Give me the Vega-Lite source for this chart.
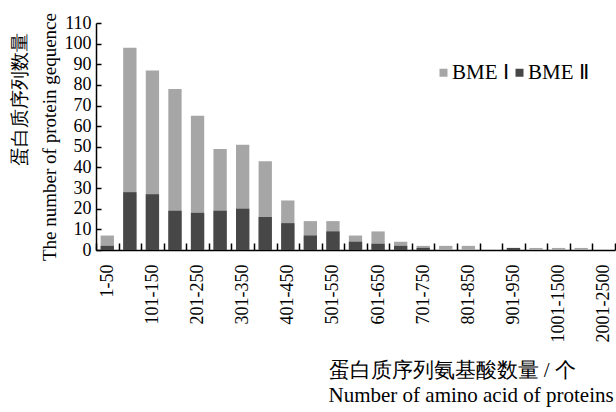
{
  "$schema": "https://vega.github.io/schema/vega-lite/v6.json",
  "width": 519,
  "height": 227,
  "autosize": "none",
  "padding": {"left": 96, "top": 23, "right": 1, "bottom": 162},
  "background": "white",
  "config": {
    "view": {"stroke": null},
    "font": "Liberation Serif",
    "axis": {
      "domainColor": "black",
      "domainWidth": 1.5,
      "tickColor": "black",
      "tickWidth": 1.5,
      "grid": false
    }
  },
  "data": {
    "values": [
      {"range": "1-50", "series": "BME Ⅰ", "count": 7},
      {"range": "51-100", "series": "BME Ⅰ", "count": 98},
      {"range": "101-150", "series": "BME Ⅰ", "count": 87},
      {"range": "151-200", "series": "BME Ⅰ", "count": 78},
      {"range": "201-250", "series": "BME Ⅰ", "count": 65},
      {"range": "251-300", "series": "BME Ⅰ", "count": 49},
      {"range": "301-350", "series": "BME Ⅰ", "count": 51},
      {"range": "351-400", "series": "BME Ⅰ", "count": 43},
      {"range": "401-450", "series": "BME Ⅰ", "count": 24},
      {"range": "451-500", "series": "BME Ⅰ", "count": 14},
      {"range": "501-550", "series": "BME Ⅰ", "count": 14},
      {"range": "551-600", "series": "BME Ⅰ", "count": 7},
      {"range": "601-650", "series": "BME Ⅰ", "count": 9},
      {"range": "651-700", "series": "BME Ⅰ", "count": 4},
      {"range": "701-750", "series": "BME Ⅰ", "count": 2},
      {"range": "751-800", "series": "BME Ⅰ", "count": 2},
      {"range": "801-850", "series": "BME Ⅰ", "count": 2},
      {"range": "851-900", "series": "BME Ⅰ", "count": 0},
      {"range": "901-950", "series": "BME Ⅰ", "count": 1},
      {"range": "951-1000", "series": "BME Ⅰ", "count": 1},
      {"range": "1001-1500", "series": "BME Ⅰ", "count": 1},
      {"range": "1501-2000", "series": "BME Ⅰ", "count": 1},
      {"range": "2001-2500", "series": "BME Ⅰ", "count": 0},
      {"range": "1-50", "series": "BME Ⅱ", "count": 2},
      {"range": "51-100", "series": "BME Ⅱ", "count": 28},
      {"range": "101-150", "series": "BME Ⅱ", "count": 27},
      {"range": "151-200", "series": "BME Ⅱ", "count": 19},
      {"range": "201-250", "series": "BME Ⅱ", "count": 18},
      {"range": "251-300", "series": "BME Ⅱ", "count": 19},
      {"range": "301-350", "series": "BME Ⅱ", "count": 20},
      {"range": "351-400", "series": "BME Ⅱ", "count": 16},
      {"range": "401-450", "series": "BME Ⅱ", "count": 13},
      {"range": "451-500", "series": "BME Ⅱ", "count": 7},
      {"range": "501-550", "series": "BME Ⅱ", "count": 9},
      {"range": "551-600", "series": "BME Ⅱ", "count": 4},
      {"range": "601-650", "series": "BME Ⅱ", "count": 3},
      {"range": "651-700", "series": "BME Ⅱ", "count": 2},
      {"range": "701-750", "series": "BME Ⅱ", "count": 1},
      {"range": "751-800", "series": "BME Ⅱ", "count": 0},
      {"range": "801-850", "series": "BME Ⅱ", "count": 0},
      {"range": "851-900", "series": "BME Ⅱ", "count": 0},
      {"range": "901-950", "series": "BME Ⅱ", "count": 1},
      {"range": "951-1000", "series": "BME Ⅱ", "count": 0},
      {"range": "1001-1500", "series": "BME Ⅱ", "count": 0},
      {"range": "1501-2000", "series": "BME Ⅱ", "count": 0},
      {"range": "2001-2500", "series": "BME Ⅱ", "count": 0}
    ]
  },
  "mark": {"type": "bar", "width": {"band": 0.59}},
  "encoding": {
    "x": {
      "field": "range",
      "type": "nominal",
      "sort": ["1-50","51-100","101-150","151-200","201-250","251-300","301-350","351-400","401-450","451-500","501-550","551-600","601-650","651-700","701-750","751-800","801-850","851-900","901-950","951-1000","1001-1500","1501-2000","2001-2500"],
      "scale": {"paddingInner": 0, "paddingOuter": 0},
      "axis": {
        "title": ["蛋白质序列氨基酸数量 / 个", "Number of amino acid of proteins"],
        "titleFont": "Liberation Serif",
        "titleFontWeight": "normal",
        "titleColor": "black",
        "titleFontSize": 21,
        "titleLineHeight": 25,
        "titleAlign": "left",
        "titleAnchor": "start",
        "titleBaseline": "alphabetic",
        "titleX": 232,
        "titleY": 126,
        "labelFont": "Liberation Serif",
        "labelFontSize": 18,
        "labelColor": "black",
        "labelAngle": -90,
        "labelPadding": 21,
        "tickSize": -7,
        "tickBand": "extent",
        "labelExpr": "indexof(['1-50','101-150','201-250','301-350','401-450','501-550','601-650','701-750','801-850','901-950','1001-1500','2001-2500'], datum.value) >= 0 ? datum.label : ''"
      }
    },
    "y": {
      "field": "count",
      "type": "quantitative",
      "stack": null,
      "scale": {"domain": [0, 110], "nice": false},
      "axis": {
        "values": [0, 10, 20, 30, 40, 50, 60, 70, 80, 90, 100, 110],
        "title": ["\u200b　　　　蛋白质序列数量", "The number of protein gequence"],
        "titleFont": "Liberation Serif",
        "titleFontWeight": "normal",
        "titleColor": "black",
        "titleFontSize": 19,
        "titleLineHeight": 30,
        "titleAngle": -90,
        "titleAlign": "center",
        "titleBaseline": "alphabetic",
        "titleX": -71,
        "titleY": 113.5,
        "labelFont": "Liberation Serif",
        "labelFontSize": 18,
        "labelColor": "black",
        "tickSize": -5,
        "labelPadding": 10
      }
    },
    "color": {
      "field": "series",
      "type": "nominal",
      "scale": {"domain": ["BME Ⅰ", "BME Ⅱ"], "range": ["#a6a6a6", "#474747"]},
      "legend": {
        "title": null,
        "orient": "none",
        "legendX": 337,
        "legendY": 39,
        "direction": "horizontal",
        "symbolType": "square",
        "symbolSize": 64,
        "symbolStrokeWidth": 0,
        "labelFont": "Liberation Serif",
        "labelFontSize": 21,
        "labelColor": "black",
        "labelOffset": -2,
        "columnPadding": -2,
        "padding": 0
      }
    }
  }
}
